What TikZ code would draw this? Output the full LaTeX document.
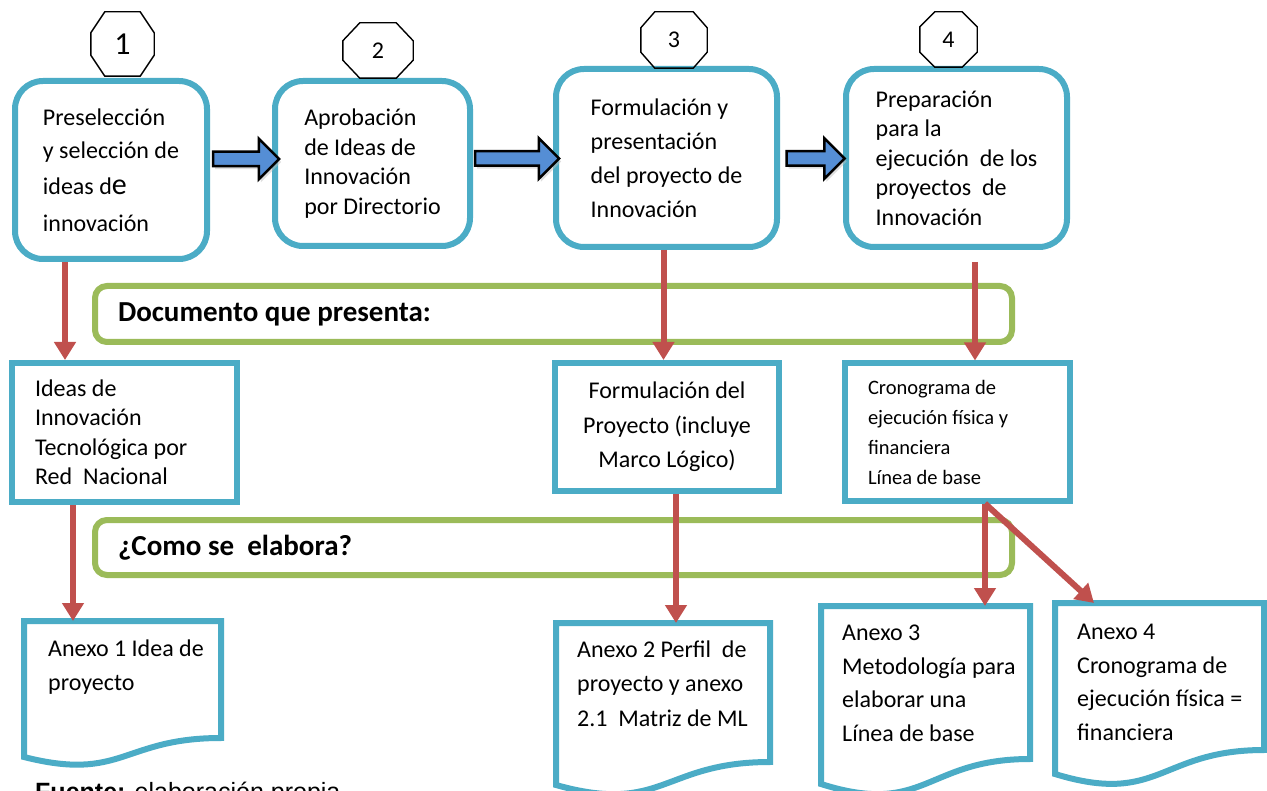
\documentclass[tikz,border=0pt]{standalone}
\usepackage{fontspec}
\setmainfont{Carlito}
\newfontfamily\arialfont{Liberation Sans}
\usetikzlibrary{shapes.arrows,arrows.meta,shadows}

\definecolor{celeste}{HTML}{4BACC6}
\definecolor{verde}{HTML}{9BBB59}
\definecolor{rojo}{HTML}{C0504D}
\definecolor{azulflecha}{HTML}{558ED5}

% octogono alrededor de un nodo: nombre, corte x, corte y
\newcommand{\octo}[3]{%
  \draw[octa] ([xshift=#2]#1.north west) -- ([xshift=-#2]#1.north east)
    -- ([yshift=-#3]#1.north east) -- ([yshift=#3]#1.south east)
    -- ([xshift=-#2]#1.south east) -- ([xshift=#2]#1.south west)
    -- ([yshift=#3]#1.south west) -- ([yshift=-#3]#1.north west) -- cycle;}

\tikzset{
  etapa/.style={draw=celeste, line width=6pt, rounded corners=28pt, fill=white,
    align=left, font=\fontsize{24}{29.5}\selectfont},
  caja/.style={draw=celeste, line width=6pt, fill=white, inner sep=0pt,
    font=\fontsize{24}{29.5}\selectfont},
  barra/.style={draw=verde, line width=6pt, rounded corners=12pt, inner sep=0pt,
    minimum width=917pt, text width=871pt, align=flush left,
    font=\fontsize{29}{32}\selectfont\bfseries},
  numero/.style={inner sep=0pt, font=\fontsize{24}{24}\selectfont},
  octa/.style={draw=black, line width=1.4pt},
  flechazul/.style={single arrow, draw=black, line width=2.5pt, fill=azulflecha,
    inner sep=0pt, text height=6pt, text depth=6pt, single arrow head extend=13pt,
    drop shadow={shadow xshift=2pt, shadow yshift=-3pt, fill=black!25}},
  roja/.style={draw=rojo, line width=6pt, -{Triangle[length=18pt,width=21pt]}},
  hoja/.style={draw=none, anchor=north west, inner sep=0pt, outer sep=0pt},
  borde/.style={draw=celeste, line width=6pt, line join=miter, fill=white},
  texto/.style={anchor=base west, align=left, inner sep=0pt,
    font=\fontsize{24}{33.5}\selectfont}
}

\begin{document}
\begin{tikzpicture}[x=1pt,y=1pt]
\fill[white] (0,0) rectangle (1267,-791);
\useasboundingbox (0,0) rectangle (1267,-791);

% barras verdes
\node[barra, minimum height=56pt] (g1) at (553.5,-314) {Documento que presenta:};
\node[barra, minimum height=55pt] (g2) at (553.5,-547.5) {¿Como se~ elabora?};

% etapas
\node[etapa, minimum width=192pt, minimum height=178pt,
  font=\fontsize{24}{33}\selectfont] (b1) at (111,-170)
  {Preselección\\ y selección de\\[3pt] ideas d{\fontsize{30}{30}\selectfont e}\\[4pt] innovación};
\node[etapa, minimum width=195pt, minimum height=165pt] (b2) at (372.5,-163.5)
  {Aprobación\\ de Ideas de\\ Innovación\\ por Directorio};
\node[etapa, minimum width=221pt, minimum height=178pt,
  font=\fontsize{24}{34}\selectfont] (b3) at (666.5,-158)
  {Formulación y\\ presentación\\ del proyecto de\\ Innovación};
\node[etapa, minimum width=221pt, minimum height=178pt] (b4) at (956.5,-158)
  {Preparación\\ para la\\ ejecución~ de los\\ proyectos~ de\\ Innovación};

% numeros
\node[numero, minimum width=63pt, minimum height=64pt, font=\fontsize{32}{32}\selectfont]
  (n1) at (122.5,-44) {1};
\node[numero, minimum width=70pt, minimum height=55pt] (n2) at (378,-50.5) {2};
\node[numero, minimum width=66pt, minimum height=56pt] (n3) at (674,-40) {3};
\node[numero, minimum width=57pt, minimum height=55pt] (n4) at (948.5,-39.5) {4};
\octo{n1}{14pt}{21pt}
\octo{n2}{17pt}{18pt}
\octo{n3}{14pt}{16pt}
\octo{n4}{15pt}{15pt}

\node[flechazul, minimum height=66pt] (f1) at (242.5,-159) {};
\node[flechazul, minimum height=84pt] (f2) at (513.5,-158.5) {};
\node[flechazul, minimum height=58pt] (f3) at (812,-158.5) {};

% documentos
\node[caja, minimum width=225pt, minimum height=139pt, text width=179pt, align=flush left]
  (r1) at (124.5,-432.5) {Ideas de\\ Innovación\\ Tecnológica por\\ Red~ Nacional};
\node[caja, minimum width=224.5pt, minimum height=128pt, align=center,
  font=\fontsize{24}{34.5}\selectfont]
  (r2) at (667,-427) {Formulación del\\ Proyecto (incluye\\ Marco Lógico)};
\node[caja, minimum width=225pt, minimum height=137pt, text width=179pt, align=flush left,
  font=\fontsize{20.5}{30}\selectfont]
  (r3) at (957.5,-432) {Cronograma de\\ ejecución física y\\ financiera\\ Línea de base};

% anexos
\node[hoja, minimum width=197pt, minimum height=117pt] (d1) at (24,-621) {};
\draw[borde] (d1.north west) -- (d1.north east) -- ++(0,-117)
  .. controls +(-98.5,0) and +(98.5,-25) .. ([yshift=-136pt]d1.north west) -- cycle;
\node[texto] (d1t) at ([shift={(24,-69)}]d1.north west) {Anexo 1 Idea de\\ proyecto};

\node[hoja, minimum width=214pt, minimum height=139pt] (d2) at (556,-623) {};
\draw[borde] (d2.north west) -- (d2.north east) -- ++(0,-139)
  .. controls +(-107,0) and +(107,-30) .. ([yshift=-162pt]d2.north west) -- cycle;
\node[texto, font=\fontsize{24}{34.5}\selectfont] (d2t) at ([shift={(21,-103)}]d2.north west)
  {Anexo 2 Perfil~ de\\ proyecto y anexo\\ 2.1~ Matriz de ML};

\node[hoja, minimum width=209pt, minimum height=153pt] (d3) at (821,-606) {};
\draw[borde] (d3.north west) -- (d3.north east) -- ++(0,-153)
  .. controls +(-104.5,0) and +(104.5,-33) .. ([yshift=-178pt]d3.north west) -- cycle;
\node[texto] (d3t) at ([shift={(21,-135)}]d3.north west)
  {Anexo 3\\ Metodología para\\ elaborar una\\ Línea de base};

\node[hoja, minimum width=209pt, minimum height=147pt] (d4) at (1055,-603) {};
\draw[borde] (d4.north west) -- (d4.north east) -- ++(0,-147)
  .. controls +(-104.5,0) and +(104.5,-32) .. ([yshift=-171pt]d4.north west) -- cycle;
\node[texto] (d4t) at ([shift={(22,-137)}]d4.north west)
  {Anexo 4\\ Cronograma de\\ ejecución física =\\ financiera};

% flechas rojas
\draw[roja] ([xshift=53pt]b1.south west) -- ([xshift=53pt]b1.south west |- r1.north);
\draw[roja] ([xshift=-3pt]b3.south) -- ([xshift=-3pt]b3.south |- r2.north);
\draw[roja] ([xshift=18.5pt,yshift=-12pt]b4.south) -- ([xshift=18.5pt]b4.south |- r3.north);
\draw[roja] ([xshift=-51.5pt]r1.south) -- ([xshift=-51.5pt]r1.south |- d1.north);
\draw[roja] ([xshift=9pt]r2.south) -- ([xshift=9pt]r2.south |- d2.north);
\draw[roja] ([xshift=27.5pt]r3.south) -- ([xshift=27.5pt]r3.south |- d3.north);
\draw[roja] ([xshift=27.5pt]r3.south) -- ([xshift=39pt]d4.north west);

\node[anchor=base west, inner sep=0pt, font=\arialfont\fontsize{25}{28}\selectfont]
  (fuente) at (35,-800) {\textbf{Fuente:} elaboración propia};
\end{tikzpicture}
\end{document}
